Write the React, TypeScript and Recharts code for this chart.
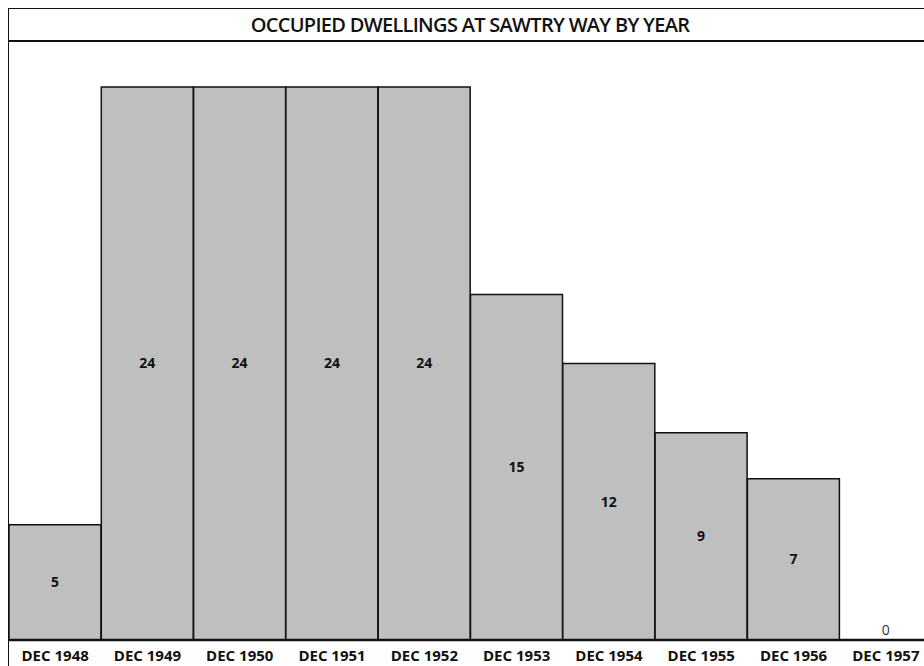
import { BarChart, Bar, XAxis, YAxis, LabelList, ReferenceDot } from 'recharts';

const years = ['DEC 1948', 'DEC 1949', 'DEC 1950', 'DEC 1951', 'DEC 1952', 'DEC 1953', 'DEC 1954', 'DEC 1955', 'DEC 1956', 'DEC 1957'];
const dwellings = [5, 24, 24, 24, 24, 15, 12, 9, 7, 0];

const data = years.map((year, i) => ({ year, dwellings: dwellings[i] }));

const FONT = '"Open Sans", Lato, sans-serif';

function BarValue(props: any) {
  const { x, y, width, height, value } = props;
  if (!value) return null;
  return (
    <text
      x={x + width / 2}
      y={y + height / 2}
      dy="0.35em"
      textAnchor="middle"
      fontSize={14}
      fontWeight="bold"
      fontFamily={FONT}
      fill="#111"
    >
      {value}
    </text>
  );
}

function ZeroLabel(props: any) {
  const { viewBox, value } = props;
  const cx = viewBox.x + (viewBox.width || 0) / 2;
  return (
    <text x={cx} y={viewBox.y - 5} textAnchor="middle" style={{ fontSize: 14, fontFamily: FONT, fill: '#333' }}>
      {value}
    </text>
  );
}

export default function App() {
  return (
    <div style={{ position: 'absolute', left: 0, top: 0, width: 924, height: 666, overflow: 'hidden', background: '#fff' }}>
      <div
        style={{
          position: 'absolute',
          left: 8,
          top: 8,
          width: 940,
          height: 700,
          borderLeft: '1.5px solid #111',
          borderTop: '1.5px solid #111',
        }}
      />
      <div
        style={{
          position: 'absolute',
          left: 8,
          top: 9,
          width: 924,
          height: 31,
          borderBottom: '2px solid #111',
          display: 'flex',
          alignItems: 'center',
          justifyContent: 'center',
          fontFamily: FONT,
          fontSize: 20,
          fontWeight: 600,
          letterSpacing: -0.7,
          color: '#111',
        }}
      >
        OCCUPIED DWELLINGS AT SAWTRY WAY BY YEAR
      </div>
      <div style={{ position: 'absolute', left: 0, top: 0 }}>
        <BarChart width={940} height={666} data={data} margin={{ top: 41, right: 8, left: 9, bottom: 0 }} barCategoryGap={0}>
          <YAxis hide domain={[0, 26]} />
          <XAxis
            dataKey="year"
            height={26}
            tickLine={false}
            axisLine={{ stroke: '#111', strokeWidth: 2.5 }}
            interval={0}
            dy={2}
            tick={{ fill: '#111', fontSize: 15, fontWeight: 'bold', fontFamily: FONT }}
          />
          <Bar dataKey="dwellings" fill="#bfbfbf" stroke="#111" strokeWidth={1.5} isAnimationActive={false}>
            <LabelList dataKey="dwellings" content={BarValue} />
          </Bar>
          {data
            .filter((d) => d.dwellings === 0)
            .map((d) => (
              <ReferenceDot
                key={d.year}
                x={d.year}
                y={d.dwellings}
                r={0}
                fill="none"
                stroke="none"
                label={<ZeroLabel value={d.dwellings} />}
              />
            ))}
        </BarChart>
      </div>
    </div>
  );
}
